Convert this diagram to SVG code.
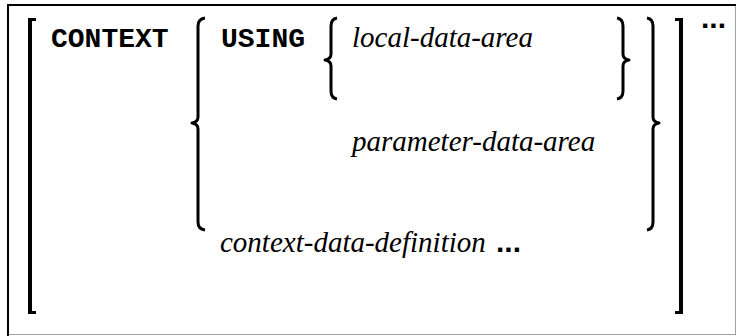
<svg xmlns="http://www.w3.org/2000/svg" width="736" height="336" viewBox="0 0 736 336">
<style>
.kw{font-family:"Liberation Mono","DejaVu Sans Mono",monospace;font-weight:bold;font-size:28px;fill:#000}
.var{font-family:"Liberation Serif","Times New Roman","DejaVu Serif",serif;font-style:italic;font-size:29px;fill:#000}
.dots{font-family:"Liberation Sans",Arial,sans-serif;font-weight:bold;font-size:30px;fill:#000}
.brace{fill:none;stroke:#000;stroke-width:3;stroke-linejoin:round}
.bar{fill:#000}
</style>
<rect width="736" height="336" fill="#fff"/>
<g id="frame">
<rect x="7" y="4" width="729" height="2" fill="#000"/>
<rect x="7" y="4" width="2" height="332" fill="#000"/>
<rect x="9" y="334" width="727" height="1" fill="#a0a0a0"/>
<rect x="735" y="6" width="1" height="329" fill="#a0a0a0"/>
</g>
<g id="outer-bracket">
<rect class="bar" x="28" y="18" width="4" height="296"/>
<rect class="bar" x="28" y="18" width="8" height="3"/>
<rect class="bar" x="28" y="311" width="8" height="3"/>
<rect class="bar" x="679" y="18" width="4" height="296"/>
<rect class="bar" x="675" y="18" width="8" height="3"/>
<rect class="bar" x="675" y="311" width="8" height="3"/>
</g>
<g id="context">
<text class="kw" x="51" y="47">CONTEXT</text>
</g>
<g id="choice-braces">
<path class="brace" d="M205,18 Q198,19 198,26 L198,117 Q198,122 192,123 Q198,124 198,129 L198,222 Q198,229 205,230"/>
<path class="brace" d="M647,18 Q653,19 653,26 L653,117 Q653,122 659,123 Q653,124 653,129 L653,222 Q653,229 647,230"/>
</g>
<g id="using">
<text class="kw" x="221" y="47">USING</text>
</g>
<g id="using-braces">
<path class="brace" d="M337,18 Q331,19 331,26 L331,54 Q331,59 325,60 Q331,61 331,66 L331,91 Q331,98 337,99"/>
<path class="brace" d="M617,18 Q623,19 623,26 L623,54 Q623,59 629,60 Q623,61 623,66 L623,91 Q623,98 617,99"/>
</g>
<g id="local-data-area">
<text class="var" x="352" y="47">local-data-area</text>
</g>
<g id="parameter-data-area">
<text class="var" x="352" y="151">parameter-data-area</text>
</g>
<g id="context-data-definition">
<text class="var" x="220" y="252">context-data-definition</text>
<text class="dots" x="496" y="252">...</text>
</g>
<g id="repeat">
<text class="dots" x="701" y="28">...</text>
</g>
</svg>
